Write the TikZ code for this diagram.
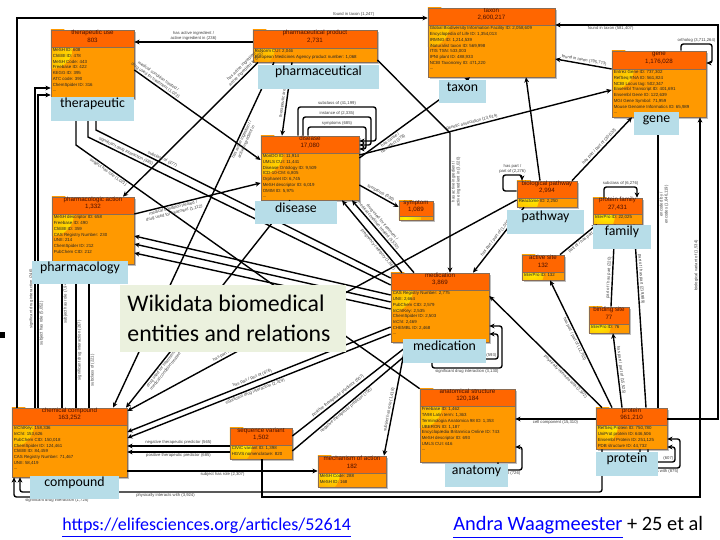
\documentclass[tikz,border=0pt]{standalone}
\usepackage{fontspec}
\setmainfont{Liberation Sans}
\newfontfamily\calibri{Carlito}
\usetikzlibrary{arrows.meta,fit,shadows}

\definecolor{hdrorange}{HTML}{FF6600}
\definecolor{bodyorange}{HTML}{FF9900}
\definecolor{boxedge}{HTML}{8A6D55}
\definecolor{headtext}{HTML}{4A1000}
\definecolor{tagblue}{HTML}{B7DDE8}
\definecolor{titlegreen}{HTML}{EBF1DE}
\definecolor{linkblue}{HTML}{0000FF}

\begin{document}
\begin{tikzpicture}[x=0.5pt,y=-0.5pt,
    entity/.style={draw=boxedge, fill=bodyorange, line width=0.35pt, inner sep=0pt,
      drop shadow={shadow xshift=0.8pt, shadow yshift=-0.8pt, fill=black, opacity=0.25},
      path picture={\shade[inner color=yellow!90!orange, outer color=bodyorange]
        ([yshift=-8.5pt]path picture bounding box.north west) circle (11pt);}},
    head/.style={draw=boxedge, fill=hdrorange, line width=0.35pt, inner sep=0pt,
      align=center, text=headtext, font=\fontsize{3.1}{3.8}\selectfont},
    fields/.style={anchor=north west, inner sep=0.7pt, align=left, text=black!85,
      font=\fontsize{2.2}{2.85}\selectfont},
    tag/.style={fill=tagblue, inner sep=0pt, font=\calibri\fontsize{6.9}{8}\selectfont},
    rel/.style={line width=0.7pt, -{Stealth[length=2.6pt,width=2.4pt]}},
    loop/.style={rel, rounded corners=1.2pt},
    lbl/.style={font=\fontsize{2.1}{2.5}\selectfont, inner sep=0.5pt, align=center, text=black!75}]
\useasboundingbox[fill=white] (0,0) rectangle (720,540);

% entity boxes
\node[entity, fit={(51,30) (134,98)}] (ther) {};
\node[head, fit={(51,30) (134,47)}] (ther-h) {therapeutic use\\803};
\node[fields] at (51,47) {MeSH ID: 608\\ChEBI ID: 478\\MeSH Code: 443\\Freebase ID: 422\\KEGG ID: 395\\ATC code: 390\\ChemSpider ID: 316\\...};

\node[entity, fit={(253,30) (377,62)}] (pharm) {};
\node[head, fit={(253,30) (377,48)}] (pharm-h) {pharmaceutical product\\2,731};
\node[fields] at (253,48) {RxNorm CUI: 2,046\\European Medicines Agency product number: 1,068};

\node[entity, fit={(428,8) (555,77)}] (taxon) {};
\node[head, fit={(428,8) (555,25)}] (taxon-h) {taxon\\2,600,217};
\node[fields] at (428,25) {Global Biodiversity Information Facility ID: 2,058,609\\Encyclopedia of Life ID: 1,354,013\\IRMNG ID: 1,214,539\\iNaturalist taxon ID: 569,998\\ITIS TSN: 533,003\\IPNI plant ID: 488,933\\NCBI Taxonomy ID: 471,220\\...};

\node[entity, fit={(612,51) (706,117)}] (gene) {};
\node[head, fit={(612,51) (706,69)}] (gene-h) {gene\\1,176,028};
\node[fields] at (612,69) {Entrez Gene ID: 737,302\\RefSeq RNA ID: 561,824\\NCBI Locus tag: 502,347\\Ensembl Transcript ID: 401,691\\Ensembl Gene ID: 122,639\\MGI Gene Symbol: 71,959\\Mouse Genome Informatics ID: 65,989\\...};

\node[entity, fit={(261,136) (359,200)}] (dis) {};
\node[head, fit={(261,136) (359,153)}] (dis-h) {disease\\17,080};
\node[fields] at (261,153) {MonDO ID: 11,914\\UMLS CUI: 11,441\\Disease Ontology ID: 9,509\\ICD-10-CM: 6,805\\Orphanet ID: 6,745\\MeSH descriptor ID: 6,019\\OMIM ID: 5,975\\...};

\node[entity, fit={(399,201) (433,220)}] (sym) {};
\node[head, fit={(399,201) (433,216)}] (sym-h) {symptom\\1,089};

\node[entity, fit={(517,181) (577,207)}] (path) {};
\node[head, fit={(517,181) (577,198)}] (path-h) {biological pathway\\2,994};
\node[fields] at (517,198) {Reactome ID: 2,250};

\node[entity, fit={(593,198) (642,224)}] (fam) {};
\node[head, fit={(593,198) (642,214)}] (fam-h) {protein family\\27,431};
\node[fields] at (593,214) {InterPro ID: 22,025};

\node[entity, fit={(522,255) (564,280)}] (act) {};
\node[head, fit={(522,255) (564,272)}] (act-h) {active site\\132};
\node[fields] at (522,272) {InterPro ID: 132};

\node[entity, fit={(589,307) (629,333)}] (bind) {};
\node[head, fit={(589,307) (629,324)}] (bind-h) {binding site\\77};
\node[fields] at (589,324) {InterPro ID: 76};

\node[entity, fit={(52,197) (134,264)}] (phar) {};
\node[head, fit={(52,197) (134,214)}] (phar-h) {pharmacologic action\\1,332};
\node[fields] at (52,214) {MeSH descriptor ID: 658\\Freebase ID: 490\\ChEBI ID: 359\\CAS Registry Number: 230\\UNII: 214\\ChemSpider ID: 212\\PubChem CID: 212};

\node[entity, fit={(391,273) (489,342)}] (med) {};
\node[head, fit={(391,273) (489,290)}] (med-h) {medication\\3,869};
\node[fields] at (391,290) {CAS Registry Number: 2,775\\UNII: 2,664\\PubChem CID: 2,579\\InChIKey: 2,535\\ChemSpider ID: 2,503\\InChI: 2,469\\CHEMBL ID: 2,468\\...};

\node[entity, fit={(12,408) (127,477)}] (comp) {};
\node[head, fit={(12,408) (127,425)}] (comp-h) {chemical compound\\163,252};
\node[fields] at (12,425) {InChIKey: 158,336\\InChI: 153,626\\PubChem CID: 150,018\\ChemSpider ID: 124,461\\ChEBI ID: 84,459\\CAS Registry Number: 71,467\\UNII: 58,419\\...};

\node[entity, fit={(230,428) (292,459)}] (seq) {};
\node[head, fit={(230,428) (292,445)}] (seq-h) {sequence variant\\1,502};
\node[fields] at (230,445) {CIViC variant ID: 1,398\\HGVS nomenclature: 820};

\node[entity, fit={(318,456) (386,487)}] (mech) {};
\node[head, fit={(318,456) (386,473)}] (mech-h) {mechanism of action\\182};
\node[fields] at (318,473) {MeSH Code: 288\\MeSH ID: 168};

\node[entity, fit={(420,389) (515,462)}] (anat) {};
\node[head, fit={(420,389) (515,406)}] (anat-h) {anatomical structure\\120,184};
\node[fields] at (420,406) {Freebase ID: 1,462\\TA98 Latin term: 1,363\\Terminologia Anatomica 98 ID: 1,353\\UBERON ID: 1,187\\Encyclop\ae dia Britannica Online ID: 743\\MeSH descriptor ID: 693\\UMLS CUI: 616\\...};

\node[entity, fit={(596,408) (667,449)}] (prot) {};
\node[head, fit={(596,408) (667,425)}] (prot-h) {protein\\961,210};
\node[fields] at (596,425) {RefSeq Protein ID: 750,780\\UniProt protein ID: 646,506\\Ensembl Protein ID: 251,125\\PDB structure ID: 44,732};

% relations
\draw[rel] (comp.north -| 17,0) -- (17,18) -- (taxon.west |- 0,18) node[lbl, above, pos=0.82] {found in taxon (1,247)};
\draw[rel] (pharm.west |- 0,42) -- (ther.east |- 0,42) node[lbl, above, midway] {has active ingredient /\\active ingredient in (236)};
\draw[rel] (ther.east |- 0,70) -- (dis.west |- 0,160) node[lbl, sloped, above, pos=0.15] {medical condition treated /\\drug used for treatment (1,022)};
\draw[rel] (pharm.south -| 258,0) -- (phar.north -| 123,0) node[lbl, sloped, above, pos=0.07] {has active ingredient /\\active ingredient in (252)};
\draw[rel] (pharm.south -| 274,0) -- (comp.north -| 113,0) node[lbl, sloped, below, pos=0.22] {has active ingredient /\\active ingredient in};
\draw[rel] (pharm.south -| 292,0) -- (dis.north -| 282,0) node[lbl, sloped, above, pos=0.55] {therapeutic area};
\draw[rel] (pharm.east |- 0,60) -- (450,133) -- (med.north -| 450,0) node[lbl, rotate=90, anchor=north, pos=0.35] {has active ingredient /\\active ingredient in (3,020)};
\draw[rel] (path.north -| 540,0) -- (taxon.south -| 526,0);
\draw[rel] (gene.west |- 0,69) -- (taxon.east |- 0,59) node[lbl, sloped, above, midway] {found in taxon (795,773)};
\draw[rel] (prot.east |- 0,419) -- (718,419) -- (718,25) -- (taxon.east |- 0,25) node[lbl, below, pos=0.66] {found in taxon (581,407)};
\draw[loop] (gene.north -| 681,0) -- (681,44) -- (712,44) node[lbl, above, midway] {ortholog (3,711,264)} -- (712,63) -- (gene.east |- 0,63);
\draw[rel] (dis.east |- 0,155) -- (gene.west |- 0,90) node[lbl, sloped, above, pos=0.45] {genetic association (13,614)};
\draw[rel] (path.north -| 572,0) -- (gene.south -| 632,0) node[lbl, sloped, above, midway] {has part / part of (30,532)};
\draw[rel] (prot.north -| 658,0) -- (gene.south -| 658,0) node[lbl, rotate=90, anchor=north, pos=0.7] {encoded by /\\encodes (1,646,119)};
\draw[rel] (seq.south -| 262,0) -- (262,497) -- (700,497) -- (gene.south -| 700,0) node[lbl, rotate=90, anchor=south, pos=0.61] {biological variant of (1,534)};
\draw[loop] (path.west |- 0,191) -- (503,191) -- (503,175) -- (522,175) node[lbl, above, midway] {has part /\\part of (2,276)} -- (path.north -| 522,0);
\draw[loop] (fam.north -| 604,0) -- (604,187) -- (637,187) node[lbl, above, midway] {subclass of (6,276)} -- (fam.north -| 637,0);
\draw[rel] (bind.north -| 611,0) -- (fam.south -| 615,0) node[lbl, sloped, above, pos=0.35] {part of / has part (220)};
\draw[rel] (prot.north -| 646,0) -- (fam.south -| 634,0) node[lbl, sloped, above, pos=0.7] {part of / has part (219,989)};
\draw[rel] (act.north -| 560,0) -- (fam.south -| 597,0) node[lbl, sloped, below, midway] {part of / has part};
\draw[rel] (prot.north -| 622,0) -- (bind.south -| 613,0) node[lbl, sloped, above, midway] {has part / part of (15,525)};
\draw[rel] (prot.north -| 612,0) -- (act.south -| 550,0) node[lbl, sloped, below, pos=0.55] {has part / part of (12,763)};
\draw[rel] (prot.north -| 602,0) -- (med.east |- 0,296) node[lbl, sloped, below, pos=0.3] {physically interacts with (2,502)};
\draw[rel] (prot.west |- 0,419) -- (anat.east |- 0,419) node[lbl, below, midway] {cell component (15,310)};
\draw[loop] (prot.south -| 648,0) -- (648,462) -- (675,462) node[lbl, above, pos=1, anchor=south east] {(607)} -- (675,447) -- (prot.east |- 0,447);
\draw[loop] (prot.south -| 640,0) -- (640,468) -- (680,468) node[lbl, below, pos=1, anchor=north east] {physically interacts with (875)} -- (680,439) -- (prot.east |- 0,439);
\draw[loop] (med.south -| 470,0) -- (470,359) -- (498,359) node[lbl, above, pos=1, anchor=south east] {(593)} -- (498,334) -- (med.east |- 0,334);
\draw[loop] (med.south -| 432,0) -- (432,368) -- (502,368) node[lbl, below, midway] {significant drug interaction (3,130)} -- (502,326) -- (med.east |- 0,326);
\draw[loop] (anat.south -| 498,0) -- (498,470) -- (522,470) node[lbl, below, pos=1, anchor=north east] {has part (726)} -- (522,447) -- (anat.east |- 0,447);
\draw[loop] (comp.south -| 100,0) -- (100,497) -- (14,497) node[lbl, below, midway] {significant drug interaction (1,725)} -- (comp.south -| 14,0);
\draw[loop] (prot.south -| 602,0) -- (602,492) -- (20,492) node[lbl, below, pos=0.75] {physically interacts with (3,924)} -- (comp.south -| 20,0);
\draw[rel] (comp.east |- 0,471) -- (mech.west |- 0,471) node[lbl, below, midway] {subject has role (2,307)};
\draw[rel] (seq.west |- 0,446) -- (comp.east |- 0,446) node[lbl, above, midway] {negative therapeutic predictor (565)};
\draw[rel] (seq.west |- 0,452) -- (comp.east |- 0,452) node[lbl, below, midway] {positive therapeutic predictor (685)};
\draw[rel] (seq.east |- 0,436) -- (med.south -| 412,0) node[lbl, sloped, above, pos=0.4] {positive therapeutic predictor (607)};
\draw[rel] (seq.east |- 0,451) -- (med.south -| 421,0) node[lbl, sloped, below, pos=0.4] {negative therapeutic predictor (750)};
\draw[rel] (med.south -| 406,0) -- (mech.north -| 384,0) node[lbl, sloped, above, pos=0.6] {subject has role (1,418)};
\draw[rel] (med.west |- 0,327) -- (comp.east |- 0,432) node[lbl, sloped, above, pos=0.52] {has part / part of (676)};
\draw[rel] (med.west |- 0,334) -- (comp.east |- 0,438) node[lbl, sloped, below, pos=0.52] {significant drug interaction (2,329)};
\draw[rel] (path.west |- 0,200) -- (comp.east |- 0,411) node[lbl, sloped, above, pos=0.74] {has part / part of};
\draw[rel] (dis.south -| 290,0) -- (comp.north -| 126,0) node[lbl, sloped, below, pos=0.8] {drug used for treatment /\\medical condition treated};
\draw[rel] (med.west |- 0,278) -- (96,130) node[lbl, sloped, above, pos=0.78] {subclass of (377)} -- (ther.south -| 96,0);
\draw[rel] (med.west |- 0,285) -- (88,137) node[lbl, sloped, above, pos=0.88] {significant drug interaction (385)} -- (ther.south -| 88,0);
\draw[rel] (anat.north west) -- (76,145) node[lbl, sloped, below, pos=0.9] {subject has role (1,021)} -- (ther.south -| 76,0);
\draw[rel] (med.west |- 0,295) -- (phar.east |- 0,236);
\draw[rel] (med.west |- 0,302) -- (phar.east |- 0,244);
\draw[rel] (med.west |- 0,309) -- (phar.east |- 0,253);
\draw[rel] (phar.east |- 0,214) -- (dis.west |- 0,183) node[lbl, sloped, below, pos=0.3] {medical condition treated /\\drug used for treatment (1,112)};
\draw[rel] (comp.north -| 62,0) -- (phar.south -| 62,0) node[lbl, rotate=90, anchor=north, pos=0.74] {subject has role (7,948)};
\draw[rel] (comp.north -| 76,0) -- (phar.south -| 76,0) node[lbl, rotate=90, anchor=north, pos=0.4] {significant drug interaction (267)};
\draw[rel] (comp.north -| 89,0) -- (phar.south -| 89,0) node[lbl, rotate=90, anchor=north, pos=0.26] {subclass of (221)};
\draw[rel] (comp.north -| 35,0) -- (35,88) node[lbl, rotate=90, anchor=south, pos=0.34] {significant drug interaction (246)} -- (ther.west |- 0,88);
\draw[rel] (comp.north -| 38,0) -- (38,95) node[lbl, rotate=90, anchor=north, pos=0.27] {subject has role (5,052)} -- (ther.west |- 0,95);
\draw[loop] (dis.north -| 298,0) -- (298,107) -- (376,107) node[lbl, above, midway] {subclass of (41,199)} -- (376,141) -- (dis.east |- 0,141);
\draw[loop] (dis.north -| 303,0) -- (303,117) -- (371,117) node[lbl, above, midway] {instance of (2,335)} -- (371,145) -- (dis.east |- 0,145);
\draw[loop] (dis.north -| 308,0) -- (308,127) -- (366,127) node[lbl, above, midway] {symptoms (685)} -- (366,149) -- (dis.east |- 0,149);
\draw[rel] (dis.east |- 0,185) -- (sym.west |- 0,207) node[lbl, sloped, above, midway] {symptoms (636)};
\draw[rel] (dis.east |- 0,158) -- (taxon.south -| 470,0) node[lbl, sloped, below, pos=0.26] {has cause /\\has effect (578)};
\draw[rel] (med.north -| 402,0) -- (dis.south -| 342,0) node[lbl, sloped, below, pos=0.35] {pregnancy category (1,867)};
\draw[rel] (med.north -| 414,0) -- (dis.south -| 352,0) node[lbl, sloped, above, pos=0.62] {drug used for treatment /\\medical condition treated (5,530)};
\draw[rel] (path.south -| 524,0) -- (med.north -| 473,0) node[lbl, sloped, above, midway] {has part / part of (1,055)};

% blue tags
\node[tag, fit={(51,97) (134,121)}] (ther-t) {therapeutic};
\node[tag, fit={(258,65) (379,89)}] (pharm-t) {pharmaceutical};
\node[tag, fit={(439,80) (486,103)}] (taxon-t) {taxon};
\node[tag, fit={(634,112) (679,135)}] (gene-t) {gene};
\node[tag, fit={(255,201) (337,224)}] (dis-t) {disease};
\node[tag, fit={(507,210) (584,234)}] (path-t) {pathway};
\node[tag, fit={(593,225) (651,249)}] (fam-t) {family};
\node[tag, fit={(32,261) (128,284)}] (phar-t) {pharmacology};
\node[tag, fit={(403,339) (486,363)}] (med-t) {medication};
\node[tag, fit={(30,476) (119,499)}] (comp-t) {compound};
\node[tag, fit={(445,464) (508,487)}] (anat-t) {anatomy};
\node[tag, fit={(596,452) (658,476)}] (prot-t) {protein};

% title and footer
\node[fill=titlegreen, inner sep=0pt, fit={(120,285) (346,352)}] (title) {};
\node[anchor=west, inner sep=0pt, align=left, font=\calibri\fontsize{11.9}{15}\selectfont] at (127,318) {Wikidata biomedical\\entities and relations};
\node[anchor=base west, inner sep=0pt, text=linkblue, font=\calibri\fontsize{9}{11}\selectfont] (url) at (62,531) {\underline{https://elifesciences.org/articles/52614}};
\node[anchor=base west, inner sep=0pt, font=\calibri\fontsize{10.2}{12}\selectfont] (authors) at (453,531) {\textcolor{linkblue}{\underline{Andra Waagmeester}} + 25 et al};
\fill (0,332) rectangle (5,338);
\end{tikzpicture}
\end{document}
